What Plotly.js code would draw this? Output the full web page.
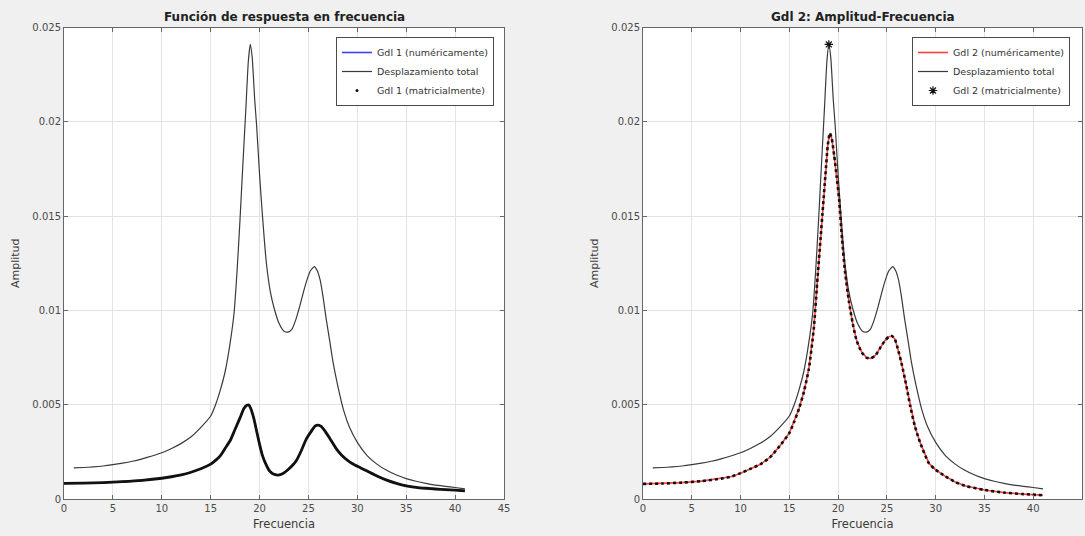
<!DOCTYPE html>
<html>
<head>
<meta charset="utf-8">
<script src="https://cdn.plot.ly/plotly-3.0.1.min.js"></script>
<style>html,body{margin:0;padding:0;background:#f0f0f0;}#chart{width:1085px;height:536px;}</style>
</head>
<body>
<div id="chart"></div>
<script>
// ---- Data ----
const totalX = [1,2,3,4,5,6,7,8,9,10,11,12,13,14,15,15.5,16,16.5,17,17.4,17.7,18.0,18.3,18.6,18.85,19.05,19.25,19.5,19.7,20.0,20.3,20.7,21.1,21.5,22.0,22.5,22.9,23.3,23.7,24.1,24.5,24.9,25.2,25.6,25.9,26.2,26.5,26.8,27.2,27.5,28.0,28.6,29.2,30,31,32,33,34,35,36,37,38,39,40,41];
const totalY = [0.00165,0.00167,0.0017,0.00175,0.00182,0.0019,0.002,0.00213,0.00228,0.00245,0.00268,0.00295,0.0033,0.0038,0.0044,0.005,0.0058,0.0068,0.0083,0.0099,0.0121,0.0148,0.0178,0.0207,0.0232,0.0241,0.0234,0.0212,0.0198,0.0172,0.015,0.0125,0.011,0.0101,0.0093,0.0089,0.00885,0.009,0.0095,0.0102,0.011,0.0117,0.0121,0.01232,0.0121,0.0116,0.0107,0.0096,0.0083,0.0073,0.006,0.0047,0.0038,0.003,0.0023,0.00185,0.00152,0.00127,0.00108,0.00094,0.00083,0.00074,0.00067,0.00061,0.00054];

const gdl1X = [0,2,4,6,8,10,11,12,13,14,15,15.5,16,16.5,17,17.5,18,18.4,18.7,18.9,19.1,19.4,19.7,20.0,20.3,20.6,21.0,21.4,21.9,22.4,22.9,23.4,23.8,24.3,24.8,25.3,25.7,26.0,26.3,26.7,27.2,27.8,28.4,29.0,29.6,30.3,31,32,33,34,35,36,37,38,39,40,41];
const gdl1Y = [0.00083,0.00084,0.00087,0.00092,0.00099,0.0011,0.00118,0.00128,0.00142,0.0016,0.00185,0.00205,0.0023,0.0027,0.0031,0.0037,0.0043,0.0048,0.00497,0.00498,0.0048,0.0043,0.0036,0.0029,0.0023,0.0019,0.0015,0.00132,0.00127,0.00135,0.00155,0.0018,0.00207,0.0026,0.0032,0.0036,0.00388,0.00392,0.00385,0.0036,0.0032,0.0027,0.00232,0.00205,0.00184,0.00166,0.00148,0.00122,0.001,0.00083,0.0007,0.00062,0.00057,0.00053,0.0005,0.00047,0.00043];

const gdl2X = [0,2,4,6,8,9,10,11,12,13,14,15,15.5,16,16.5,17,17.5,17.9,18.2,18.45,18.7,18.95,19.15,19.35,19.6,19.85,20.1,20.4,20.7,21.1,21.5,21.9,22.4,22.9,23.3,23.8,24.3,24.8,25.2,25.5,25.8,26.1,26.5,27.0,27.4,27.9,28.4,29.3,30,31,32,33,35,37,39,41];
const gdl2Y = [0.0008,0.00082,0.00087,0.00095,0.00108,0.00118,0.00137,0.0016,0.00183,0.0022,0.0028,0.0035,0.0041,0.0048,0.0057,0.0069,0.009,0.0118,0.0138,0.0155,0.0172,0.0188,0.0194,0.0191,0.0182,0.0171,0.0159,0.0138,0.0121,0.0105,0.0093,0.0084,0.0078,0.0075,0.00745,0.0076,0.008,0.0084,0.0086,0.00864,0.0085,0.008,0.0072,0.006,0.0049,0.0038,0.003,0.0019,0.00155,0.0012,0.0009,0.0007,0.00048,0.00034,0.00026,0.0002];

const peakX = [19.05];
const peakY = [0.0241];

const titles = ['Función de respuesta en frecuencia', 'Gdl 2: Amplitud-Frecuencia'];
const names1 = ['Gdl 1 (numéricamente)', 'Desplazamiento total', 'Gdl 1 (matricialmente)'];
const names2 = ['Gdl 2 (numéricamente)', 'Desplazamiento total', 'Gdl 2 (matricialmente)'];

const FONT = 'DejaVu Sans, Liberation Sans, Arial, sans-serif';

// ---- Traces ----
const traces = [
  {x: gdl1X, y: gdl1Y, xaxis:'x', yaxis:'y', mode:'lines', name:names1[0], line:{color:'#4040ff', width:1.6}, legend:'legend'},
  {x: totalX, y: totalY, xaxis:'x', yaxis:'y', mode:'lines', name:names1[1], line:{color:'#3a3a3a', width:1.2, shape:'spline', smoothing:0.5}, legend:'legend'},
  {x: gdl1X, y: gdl1Y, xaxis:'x', yaxis:'y', mode:'lines', name:names1[2], line:{color:'#111', width:2.8, shape:'spline', smoothing:0.6}, showlegend:false},
  {x: [null], y: [null], xaxis:'x', yaxis:'y', mode:'markers', name:names1[2], marker:{color:'#111', size:3}, legend:'legend'},

  {x: gdl2X, y: gdl2Y, xaxis:'x2', yaxis:'y2', mode:'lines', name:names2[0], line:{color:'#ff4040', width:1.6}, legend:'legend2'},
  {x: totalX, y: totalY, xaxis:'x2', yaxis:'y2', mode:'lines', name:names2[1], line:{color:'#3a3a3a', width:1.2, shape:'spline', smoothing:0.5}, legend:'legend2'},
  {x: gdl2X, y: gdl2Y, xaxis:'x2', yaxis:'y2', mode:'lines', name:names2[2], line:{color:'#111', width:2.6, dash:'dot', shape:'spline', smoothing:0.6}, showlegend:false},
  {x: peakX, y: peakY, xaxis:'x2', yaxis:'y2', mode:'markers', name:names2[2], marker:{color:'#111', size:7, symbol:'asterisk-open', line:{color:'#111', width:1.2}}, legend:'legend2'}
];

const axisCommon = {
  range:[0,45], dtick:5, tick0:0, showgrid:true, gridcolor:'#e3e3e3', gridwidth:1,
  zeroline:false, showline:true, linecolor:'#666', linewidth:1, mirror:'ticks',
  ticks:'inside', ticklen:4, tickcolor:'#666',
  tickfont:{family:FONT, size:10, color:'#4a4a4a'},
  title:{text:'Frecuencia', font:{family:FONT, size:11.5, color:'#3a3a3a'}, standoff:6},
  fixedrange:true
};
const yCommon = {
  range:[0,0.025], dtick:0.005, tick0:0, showgrid:true, gridcolor:'#e3e3e3', gridwidth:1,
  zeroline:false, showline:true, linecolor:'#666', linewidth:1, mirror:'ticks',
  ticks:'inside', ticklen:4, tickcolor:'#666',
  tickfont:{family:FONT, size:10, color:'#4a4a4a'},
  title:{text:'Amplitud', font:{family:FONT, size:11, color:'#3a3a3a'}, standoff:10},
  fixedrange:true
};
const yTop = 1 - 27.5/536, yBot = 1 - 499/536;
const legendCommon = {
  bgcolor:'#ffffff', bordercolor:'#4a4a4a', borderwidth:1,
  font:{family:FONT, size:9.5, color:'#333'},
  xanchor:'right', yanchor:'top', tracegroupgap:0, itemwidth:30
};

const layout = {
  width:1085, height:536,
  paper_bgcolor:'#f0f0f0', plot_bgcolor:'#ffffff',
  margin:{l:0, r:0, t:0, b:0},
  showlegend:true,
  xaxis: Object.assign({}, axisCommon, {domain:[64/1085, 504/1085], anchor:'y'}),
  yaxis: Object.assign({}, yCommon, {domain:[yBot, yTop], anchor:'x'}),
  xaxis2: Object.assign({}, axisCommon, {domain:[643/1085, 1082/1085], anchor:'y2'}),
  yaxis2: Object.assign({}, yCommon, {domain:[yBot, yTop], anchor:'x2'}),
  legend: Object.assign({}, legendCommon, {x:494/1085, y:1 - 37/536}),
  legend2: Object.assign({}, legendCommon, {x:1070/1085, y:1 - 37/536}),
  annotations: [
    {text:'<b>'+titles[0]+'</b>', xref:'paper', yref:'paper', x:(64+504)/2/1085, y:1 - 17/536, xanchor:'center', yanchor:'middle', showarrow:false, font:{family:FONT, size:12, color:'#222'}},
    {text:'<b>'+titles[1]+'</b>', xref:'paper', yref:'paper', x:(643+1082)/2/1085, y:1 - 17/536, xanchor:'center', yanchor:'middle', showarrow:false, font:{family:FONT, size:12, color:'#222'}}
  ]
};

Plotly.newPlot('chart', traces, layout, {displayModeBar:false, staticPlot:true});
</script>
</body>
</html>
